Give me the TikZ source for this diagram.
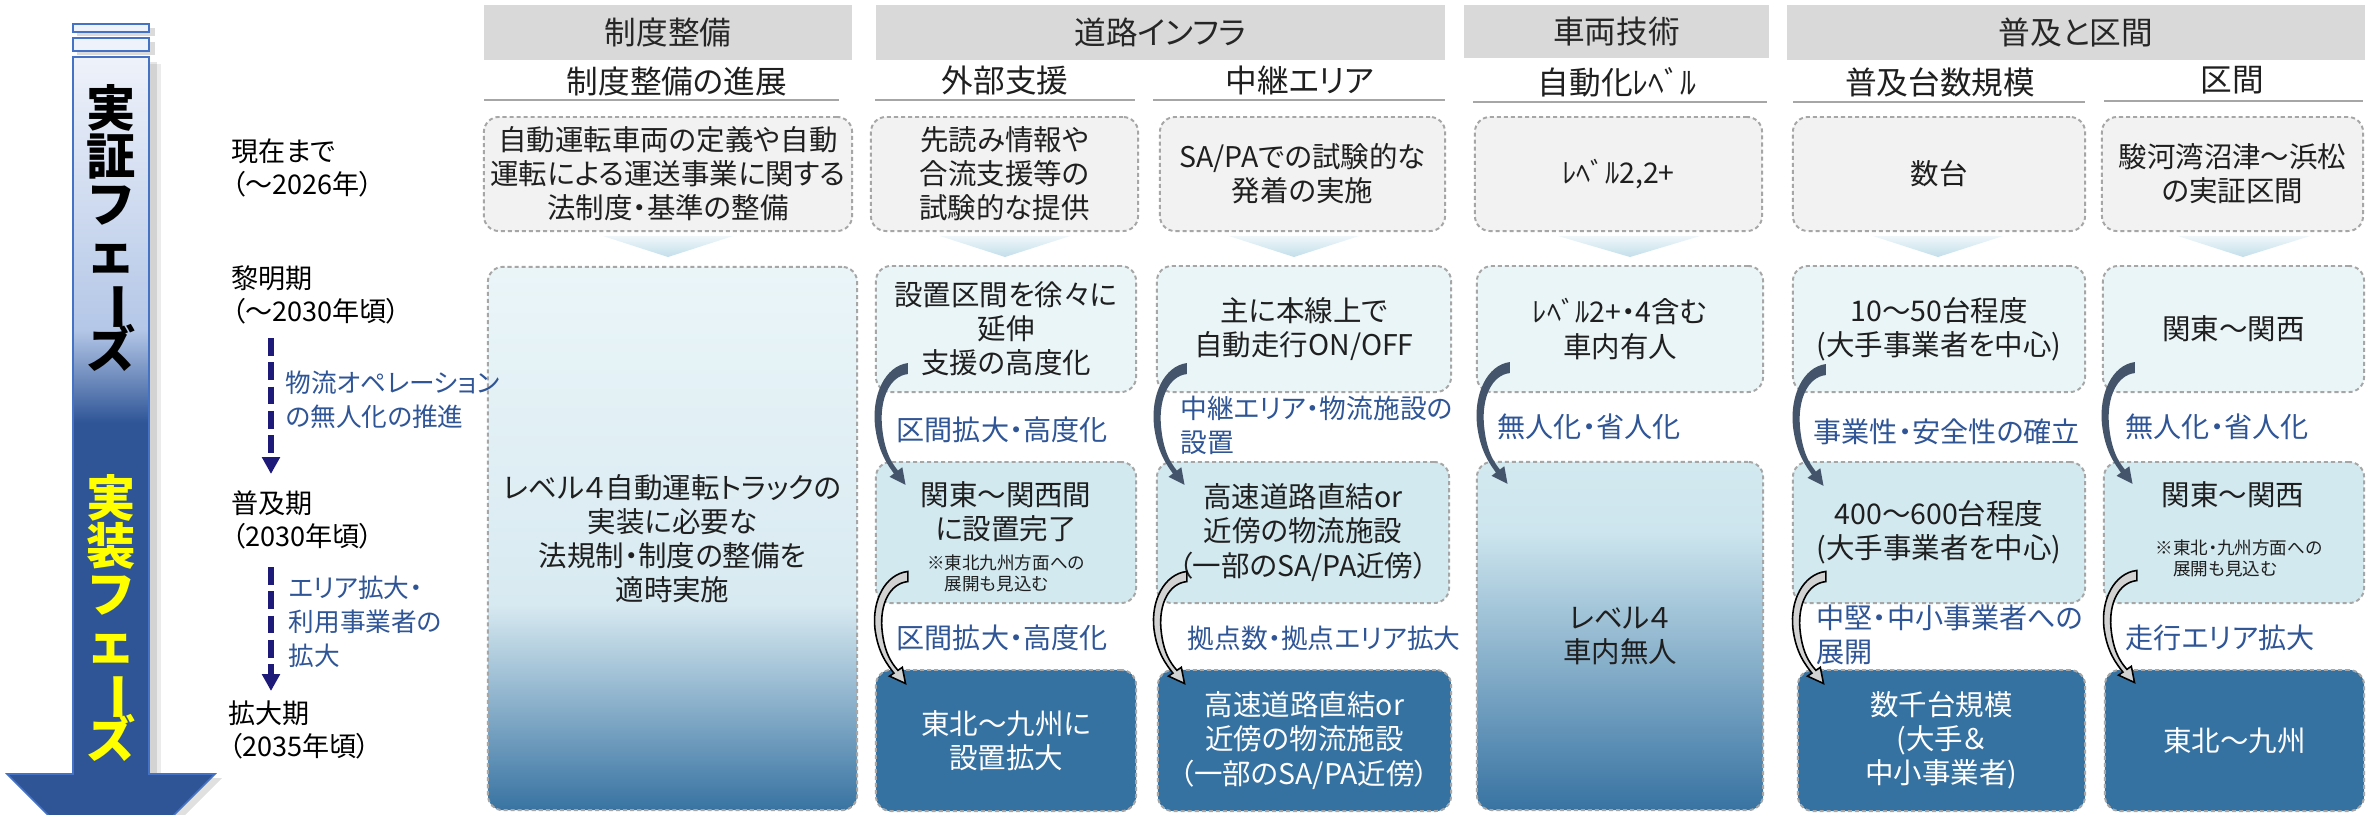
\documentclass[tikz,border=0pt]{standalone}
\usepackage{fontspec}
\setmainfont{Noto Sans CJK JP}[RawFeature={+palt}]
\usepackage{graphicx}
\usetikzlibrary{arrows.meta,calc}

\definecolor{hdrgray}{HTML}{D9D9D9}
\definecolor{rowA}{HTML}{F2F2F2}
\definecolor{rowB}{HTML}{EAF5F8}
\definecolor{rowC}{HTML}{D3E9F0}
\definecolor{rowD}{HTML}{3572A1}
\definecolor{bordgray}{HTML}{A6A6A6}
\definecolor{lblblue}{HTML}{2F5597}
\definecolor{navyd}{HTML}{1E1A7A}
\definecolor{arrdark}{HTML}{44546A}
\definecolor{shaftlight}{HTML}{EEF2FA}
\definecolor{shaftmid}{HTML}{B4C7E7}
\definecolor{shaftdark}{HTML}{2F5597}
\definecolor{outlineblue}{HTML}{4472C4}
\definecolor{chevtop}{HTML}{EEF6FA}
\definecolor{chevbot}{HTML}{C3DFEA}
\definecolor{gradend}{HTML}{3873A2}
\definecolor{bigAmid}{HTML}{D8EAF1}
\definecolor{bigBmid}{HTML}{CDE5EE}
\definecolor{vyellow}{HTML}{FFFF00}

\pgfdeclareverticalshading{bigAsh}{100bp}{color(0bp)=(gradend); color(25bp)=(gradend); color(44bp)=(bigAmid); color(75bp)=(rowB); color(100bp)=(rowB)}
\pgfdeclareverticalshading{bigBsh}{100bp}{color(0bp)=(gradend); color(25bp)=(gradend); color(65bp)=(bigBmid); color(75bp)=(rowC); color(100bp)=(rowC)}
\pgfdeclareverticalshading{shaftsh}{100bp}{color(0bp)=(shaftdark); color(25bp)=(shaftdark); color(49.5bp)=(shaftdark); color(56bp)=(shaftmid); color(75bp)=(shaftlight); color(100bp)=(shaftlight)}

\newcommand\fbig{\fontsize{8.1pt}{9.7pt}\selectfont}
\newcommand\fnote{\fontsize{5pt}{6pt}\selectfont}
\newcommand\fhdr{\fontsize{9pt}{10.5pt}\selectfont}
\newcommand\fper{\fontsize{7.7pt}{9.4pt}\selectfont}
\newcommand\fperl{\fontsize{7.3pt}{9.6pt}\selectfont}
\newcommand\flab{\fontsize{8pt}{9.7pt}\selectfont}
\newcommand\flabn{\fontsize{7.6pt}{9.7pt}\selectfont}
\newcommand\fvert{\fontsize{14pt}{13.7pt}\selectfont\bfseries\lineskiplimit=-30pt\lineskip=0pt\relax}

\newcommand\mkbox[7]{%
 \pgfmathsetmacro\bxw{(#5-#3)/100}%
 \pgfmathsetmacro\bxh{(#6-#4)/100}%
 \pgfmathsetmacro\bxx{(#3+#5)/2}%
 \pgfmathsetmacro\bxy{(#4+#6)/2}%
 \node[#1,minimum width=\bxw cm,minimum height=\bxh cm] (#2) at (\bxx,\bxy) {#7};}

\newcommand\chev[3]{\shade[top color=chevtop,bottom color=chevbot] (#1,236) -- (#2,236) -- (#3,257) -- cycle;}

\tikzset{
 boxbase/.style={rounded corners=0.15cm, draw=bordgray, dash pattern=on 1.15pt off 0.85pt, line width=0.55pt, inner sep=0pt, outer sep=0pt, align=center, text=black!88},
 boxA/.style={boxbase, fill=rowA},
 boxB/.style={boxbase, fill=rowB},
 boxC/.style={boxbase, fill=rowC},
 boxD/.style={boxbase, fill=rowD, text=white},
 hdrbox/.style={fill=hdrgray, inner sep=0pt, outer sep=0pt, font=\fhdr, text=black!85},
 subh/.style={inner sep=0pt, font=\fhdr, text=black!88},
 subline/.style={draw=bordgray, line width=0.6pt},
 tbig/.style={inner sep=0pt, align=center, font=\fbig, text=black!88},
 tnote/.style={inner sep=0pt, align=left, font=\fnote, text=black!88},
 lbl/.style={inner sep=0pt, align=left, anchor=west, text=lblblue, font=\flab},
 per/.style={inner sep=0pt, align=left, anchor=west, font=\fper, text=black},
 vtext/.style={inner sep=0pt, align=center, font=\fvert},
 dasharr/.style={navyd, line width=1.45pt, dash pattern=on 5.1pt off 1.8pt, -{Triangle[length=4.8pt,width=4.9pt]}},
 curvarr/.pic={
  \path[pic actions] (0,-5) .. controls (-23,-2) and (-36,27) .. (-33,57) .. controls (-30,84) and (-20,97) .. (-14,105.5) -- (-18.4,108.8) -- (-2.4,116.8) -- (-5.6,99.2) -- (-10,102.5) .. controls (-17,94) and (-24,82) .. (-26,57) .. controls (-28,30) and (-18,8) .. (0,6) -- cycle;
 },
 darkarr/.style={fill=arrdark},
 grayarr/.style={fill=gray!35, draw=black, line width=0.45pt, yscale=0.92}
}

\begin{document}
\begin{tikzpicture}[x=0.01cm,y=-0.01cm]
\useasboundingbox (0,0) rectangle (2374,814);
\clip (0,0) rectangle (2374,814);
\fill[white] (0,0) rectangle (2374,814);

% ---------- left phase arrow ----------
\fill[black,opacity=0.14] (77,28) rectangle (155,36);
\fill[black,opacity=0.14] (77,42) rectangle (155,55);
\fill[black,opacity=0.10] (78,62) rectangle (157,776);
\fill[black,opacity=0.08] (81,64) rectangle (161,776);
\fill[black,opacity=0.12] (14,778) -- (222,778) -- (118,882) -- cycle;
\filldraw[fill=shaftlight, draw=outlineblue, line width=0.5pt] (73,24) rectangle (149,32);
\filldraw[fill=shaftlight, draw=outlineblue, line width=0.5pt] (73,38) rectangle (149,51);
\shade[shading=shaftsh] (73,57) rectangle (149,774);
\fill[shaftdark] (73,760) -- (149,760) -- (149,774) -- (215,774) -- (111,878) -- (7,774) -- (73,774) -- cycle;
\draw[outlineblue, line width=0.45pt, line join=miter] (73,57) -- (149,57) -- (149,774) -- (215,774) -- (111,878) -- (7,774) -- (73,774) -- cycle;
\node[vtext, text=black] (vt1) at (111,228) {実\\証\\フ\\ェ\\\rotatebox[origin=c]{-90}{ー}\\ズ};
\node[vtext, text=vyellow] (vt2) at (111,618) {実\\装\\フ\\ェ\\\rotatebox[origin=c]{-90}{ー}\\ズ};

% ---------- period labels ----------
\node[per] (p1) at (231,168) {現在まで\\（～2026年）};
\node[per] (p2) at (231,295) {黎明期\\（～2030年頃）};
\node[per] (p3) at (231,520) {普及期\\（2030年頃）};
\node[per] (p4) at (228,730) {拡大期\\（2035年頃）};
\coordinate (d1s) at (271,338);
\coordinate (d1e) at (271,474);
\coordinate (d2s) at (271,567);
\coordinate (d2e) at (271,691);
\draw[dasharr] (d1s) -- (d1e);
\draw[dasharr] (d2s) -- (d2e);

% ---------- headers ----------
\mkbox{hdrbox}{h1}{484}{5}{852}{60}{制度整備}
\mkbox{hdrbox}{h2}{876}{5}{1445}{60}{道路インフラ}
\mkbox{hdrbox}{h3}{1464}{5}{1769}{58}{車両技術}
\mkbox{hdrbox}{h4}{1787}{5}{2365}{60}{普及と区間}

\node[subh] (s1) at (677,81) {制度整備の進展};
\node[subh] (s2) at (1005,80) {外部支援};
\node[subh] (s3) at (1300,80) {中継エリア};
\node[subh] (s4) at (1617,82) {自動化ﾚﾍﾞﾙ};
\node[subh] (s5) at (1940,82) {普及台数規模};
\node[subh] (s6) at (2232,80) {区間};
\draw[subline] (484,100) -- (839,100);
\draw[subline] (875,100) -- (1135,100);
\draw[subline] (1153,100) -- (1445,100);
\draw[subline] (1473,102) -- (1767,102);
\draw[subline] (1793,102) -- (2085,102);
\draw[subline] (2104,101) -- (2363,101);

% ---------- row 1 ----------
\mkbox{boxA,font=\fbig}{r1c1}{484}{117}{852}{231}{自動運転車両の定義や自動\\運転による運送事業に関する\\法制度・基準の整備}
\mkbox{boxA,font=\fbig}{r1c2a}{871}{117}{1138}{231}{先読み情報や\\合流支援等の\\試験的な提供}
\mkbox{boxA,font=\fbig}{r1c2b}{1160}{117}{1445}{231}{SA/PAでの試験的な\\発着の実施}
\mkbox{boxA,font=\fbig}{r1c3}{1475}{117}{1762}{231}{ﾚﾍﾞﾙ2,2+}
\mkbox{boxA,font=\fbig}{r1c4a}{1793}{117}{2085}{231}{数台}
\mkbox{boxA,font=\fbig}{r1c4b}{2102}{117}{2363}{231}{駿河湾沼津～浜松\\の実証区間}

% chevrons
\chev{603}{733}{668}
\chev{940}{1070}{1005}
\chev{1229}{1359}{1294}
\chev{1558}{1700}{1630}
\chev{1873}{2003}{1938}
\chev{2178}{2310}{2243}

% ---------- row 2 ----------
\mkbox{boxbase,shading=bigAsh,font=\fbig}{r2c1}{488}{267}{857}{810}{レベル４自動運転トラックの\\実装に必要な\\法規制・制度の整備を\\適時実施}
\mkbox{boxB,font=\fbig}{r2c2a}{876}{266}{1136}{392}{設置区間を徐々に\\延伸\\支援の高度化}
\mkbox{boxB,font=\fbig}{r2c2b}{1157}{266}{1451}{392}{主に本線上で\\自動走行ON/OFF}
\mkbox{boxB,font=\fbig}{r2c3}{1477}{266}{1763}{392}{ﾚﾍﾞﾙ2+・4含む\\車内有人}
\mkbox{boxB,font=\fbig}{r2c4a}{1793}{266}{2085}{392}{10～50台程度\\(大手事業者を中心)}
\mkbox{boxB,font=\fbig}{r2c4b}{2103}{266}{2364}{392}{関東～関西}

% ---------- row 3 ----------
\mkbox{boxC}{r3c2a}{876}{462}{1136}{603}{}
\node[tbig] (t3c2a) at (1006,512) {関東～関西間\\に設置完了};
\node[tnote] (n3c2a) at (1006,573) {※東北九州方面への\\\hspace*{1em}展開も見込む};
\mkbox{boxC,font=\fbig}{r3c2b}{1157}{462}{1449}{603}{高速道路直結or\\近傍の物流施設\\（一部のSA/PA近傍）}
\mkbox{boxbase,shading=bigBsh,font=\fbig}{r3c3}{1477}{462}{1763}{810}{レベル４\\車内無人}
\mkbox{boxC,font=\fbig}{r3c4a}{1793}{462}{2085}{603}{400～600台程度\\(大手事業者を中心)}
\mkbox{boxC}{r3c4b}{2104}{462}{2364}{603}{}
\node[tbig] (t3c4b) at (2233,495) {関東～関西};
\node[tnote] (n3c4b) at (2239,558) {※東北・九州方面への\\\hspace*{1em}展開も見込む};

% ---------- row 4 ----------
\mkbox{boxD,font=\fbig}{r4c2a}{876}{670}{1136}{811}{東北～九州に\\設置拡大}
\mkbox{boxD,font=\fbig}{r4c2b}{1158}{670}{1451}{811}{高速道路直結or\\近傍の物流施設\\（一部のSA/PA近傍）}
\mkbox{boxD,font=\fbig}{r4c4a}{1798}{670}{2085}{811}{数千台規模\\(大手＆\\中小事業者)}
\mkbox{boxD,font=\fbig}{r4c4b}{2105}{670}{2364}{811}{東北～九州}

% ---------- labels on left (drawn above boxes) ----------
\node[lbl, font=\fperl] (la1) at (285,400) {物流オペレーション\\の無人化の推進};
\node[lbl, font=\fperl] (la2) at (288,622) {エリア拡大・\\利用事業者の\\拡大};

% ---------- curved arrows ----------
\pic[darkarr] at ($(r2c2a.south west)+(32,-24)$) {curvarr};
\pic[darkarr] at ($(r2c2b.south west)+(30,-24)$) {curvarr};
\pic[darkarr] at ($(r2c3.south west)+(33,-25)$) {curvarr};
\pic[darkarr] at ($(r2c4a.south west)+(33,-23)$) {curvarr};
\pic[darkarr] at ($(r2c4b.south west)+(32,-25)$) {curvarr};
\pic[grayarr] at ($(r3c2a.south west)+(32,-27)$) {curvarr};
\pic[grayarr] at ($(r3c2b.south west)+(30,-27)$) {curvarr};
\pic[grayarr] at ($(r3c4a.south west)+(33,-27)$) {curvarr};
\pic[grayarr] at ($(r3c4b.south west)+(33,-28)$) {curvarr};

% ---------- transition labels ----------
\node[lbl] (l1) at (896,430) {区間拡大・高度化};
\node[lbl] (l2) at (896,638) {区間拡大・高度化};
\node[lbl, font=\flabn] (l3) at (1180,425) {中継エリア・物流施設の\\設置};
\node[lbl, font=\flabn] (l4) at (1187,638) {拠点数・拠点エリア拡大};
\node[lbl] (l5) at (1497,427) {無人化・省人化};
\node[lbl] (l6) at (1813,432) {事業性・安全性の確立};
\node[lbl] (l7) at (1816,635) {中堅・中小事業者への\\展開};
\node[lbl] (l8) at (2125,427) {無人化・省人化};
\node[lbl] (l9) at (2125,638) {走行エリア拡大};
\end{tikzpicture}
\end{document}
